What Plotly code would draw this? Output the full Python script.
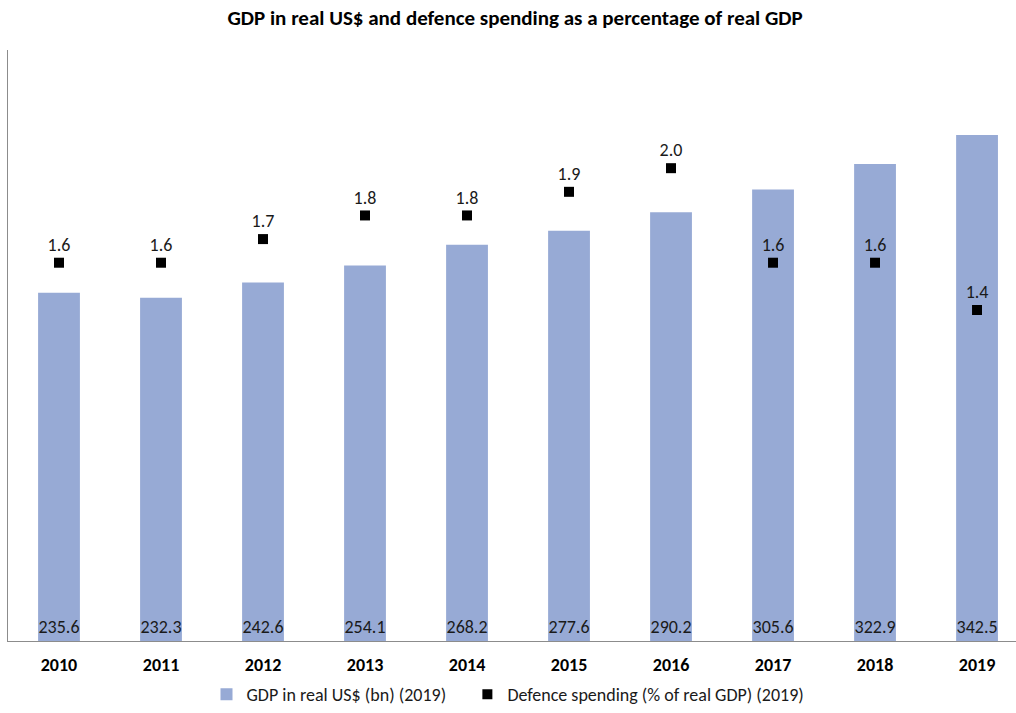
import plotly.graph_objects as go

years = ["2010", "2011", "2012", "2013", "2014", "2015", "2016", "2017", "2018", "2019"]
gdp = [235.6, 232.3, 242.6, 254.1, 268.2, 277.6, 290.2, 305.6, 322.9, 342.5]
defence = [1.6, 1.6, 1.7, 1.8, 1.8, 1.9, 2.0, 1.6, 1.6, 1.4]

FONT = "Carlito, Lato, 'Liberation Sans', sans-serif"
xs = list(range(len(years)))

fig = go.Figure()
fig.add_trace(go.Bar(
    x=xs, y=gdp, name="GDP in real US$ (bn) (2019)" + "\u00a0" * 4,
    marker=dict(color="#97aad5", line=dict(width=0)),
    width=0.41,
    text=[f"{v:.1f}" for v in gdp], textposition="inside",
    insidetextanchor="start", textangle=0, constraintext="none",
    textfont=dict(family=FONT, size=18, color="#1a1a1a"),
    cliponaxis=False,
))
fig.add_trace(go.Scatter(
    x=xs, y=defence, name="Defence spending (% of real GDP) (2019)",
    mode="markers+text", yaxis="y2",
    marker=dict(symbol="square", size=10, color="#000000"),
    text=[f"{v:.1f}" for v in defence], textposition="top center",
    textfont=dict(family=FONT, size=18, color="#1a1a1a"),
    cliponaxis=False,
))

fig.update_layout(
    width=1016, height=713,
    margin=dict(l=8, r=0, t=50, b=70.5),
    paper_bgcolor="white", plot_bgcolor="white",
    font=dict(family=FONT, size=18, color="#1a1a1a"),
    title=dict(text="<b>GDP in real US$ and defence spending as a percentage of real GDP</b>",
               x=0.507, xanchor="center", y=0.975, yanchor="middle",
               font=dict(family=FONT, size=21, color="#000000")),
    xaxis=dict(range=[-0.5, 9.382], tickvals=xs, ticktext=[f"<b>{y}</b>" for y in years],
               showline=True, linecolor="#8c8c8c", linewidth=1, ticks="",
               showgrid=False, zeroline=False, ticklabelstandoff=7,
               tickfont=dict(family=FONT, size=18, color="#000000")),
    yaxis=dict(range=[0, 400], showline=True, linecolor="#8c8c8c", linewidth=1,
               showticklabels=False, ticks="", showgrid=False, zeroline=False),
    yaxis2=dict(range=[0, 2.5], overlaying="y", side="right", visible=False,
                showgrid=False, zeroline=False),
    legend=dict(orientation="h", x=0.5, xanchor="center", xref="container",
                y=0.0, yanchor="bottom", yref="container",
                font=dict(family=FONT, size=18, color="#1a1a1a"),
                itemwidth=30, tracegroupgap=0),
    showlegend=True,
    bargap=0.59,
)

fig.write_html("out.html")
